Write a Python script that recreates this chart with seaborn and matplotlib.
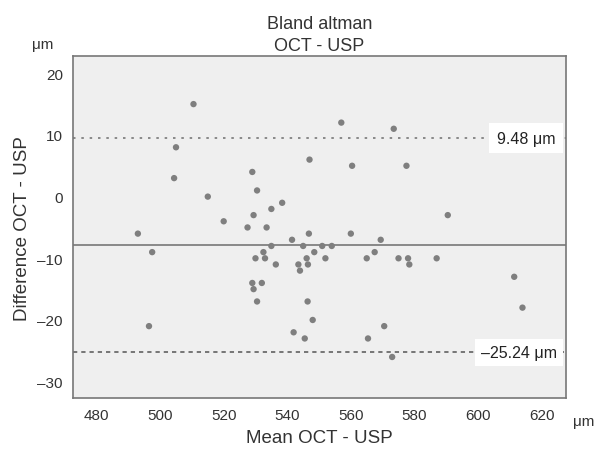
import matplotlib
matplotlib.use("Agg")
import matplotlib.pyplot as plt
import matplotlib.transforms as mtransforms
import seaborn as sns
import pandas as pd

mean_vals = [493, 497.5, 496.5, 504.4, 505, 510.5, 515, 520, 527.5, 529,
             529.4, 530.5, 533.5, 535, 538.4, 541.5, 546.8, 547, 535, 545,
             551, 554, 532.5, 530, 533, 536.4, 543.5, 544, 546.1, 546.5,
             548.5, 552, 529, 529.4, 532, 530.5, 546.4, 548, 542, 545.5,
             557, 573.5, 560.4, 577.5, 590.5, 560, 569.4, 565, 567.5, 575,
             578, 578.4, 587, 611.4, 614, 565.4, 570.5, 573]
diff_vals = [-6, -9, -21, 3, 8, 15, 0, -4, -5, 4,
             -3, 1, -5, -2, -1, -7, -6, 6, -8, -8,
             -8, -8, -9, -10, -10, -11, -11, -12, -10, -11,
             -9, -10, -14, -15, -14, -17, -17, -20, -22, -23,
             12, 11, 5, 5, -3, -6, -7, -10, -9, -10,
             -10, -11, -10, -13, -18, -23, -21, -26]
mean_diff = -7.88
upper_loa = 9.48
lower_loa = -25.24
x_ticks = [480, 500, 520, 540, 560, 580, 600, 620]
y_ticks = [-30, -20, -10, 0, 10, 20]

df = pd.DataFrame({"mean": mean_vals, "diff": diff_vals})

sns.set_style("white")
plt.rcParams["font.family"] = ["Liberation Sans", "DejaVu Sans"]

fig = plt.figure(figsize=(5.94, 4.52), dpi=100)
ax = fig.add_axes([0.1224, 0.1166, 0.8305, 0.7573])
ax.set_facecolor("#efefef")

sns.scatterplot(data=df, x="mean", y="diff", ax=ax, color="#7f7f7f",
                s=21, edgecolor="none", zorder=3)

ax.axhline(mean_diff, color="#777777", lw=1.2, zorder=2)
ax.axhline(upper_loa, color="#777777", lw=1.2, ls=(0, (1.5, 3.5)), zorder=2)
ax.axhline(lower_loa, color="#555555", lw=1.1, ls=(0, (2.8, 2.6)), zorder=2)

trans = mtransforms.blended_transform_factory(ax.transAxes, ax.transData)
ax.text(0.978, upper_loa, "9.48 μm", transform=trans, ha="right", va="center",
        fontsize=11.5, color="#222222", zorder=4,
        bbox=dict(facecolor="white", edgecolor="none", pad=5.5))
ax.text(0.982, lower_loa, "\u201325.24 μm", transform=trans, ha="right", va="center",
        fontsize=11.5, color="#222222", zorder=4,
        bbox=dict(facecolor="white", edgecolor="none", pad=4.5))

ax.set_xlim(472.5, 627.7)
ax.set_ylim(-32.7, 22.8)
ax.set_xticks(x_ticks)
ax.set_yticks(y_ticks)
ax.set_yticklabels([("\u2013" + str(-t)) if t < 0 else str(t) for t in y_ticks])

for sp in ax.spines.values():
    sp.set_color("#777777")
    sp.set_linewidth(1.2)
ax.tick_params(axis="both", direction="out", length=4, width=1, color="#555555",
               labelsize=11, labelcolor="#333333", pad=3)

ax.set_xlabel("Mean OCT - USP", fontsize=13.5, color="#333333", labelpad=5)
ax.set_ylabel("Difference OCT - USP", fontsize=13.5, color="#333333", labelpad=5)
ax.set_title("Bland altman\nOCT - USP", fontsize=13, color="#333333", pad=4,
             linespacing=1.4)

fig.text(43 / 594, 1 - 45 / 452, "μm", ha="center", va="center",
         fontsize=11, color="#333333")
fig.text(584 / 594, 1 - 422 / 452, "μm", ha="center", va="center",
         fontsize=11, color="#333333")

fig.savefig("out.png", dpi=100)
